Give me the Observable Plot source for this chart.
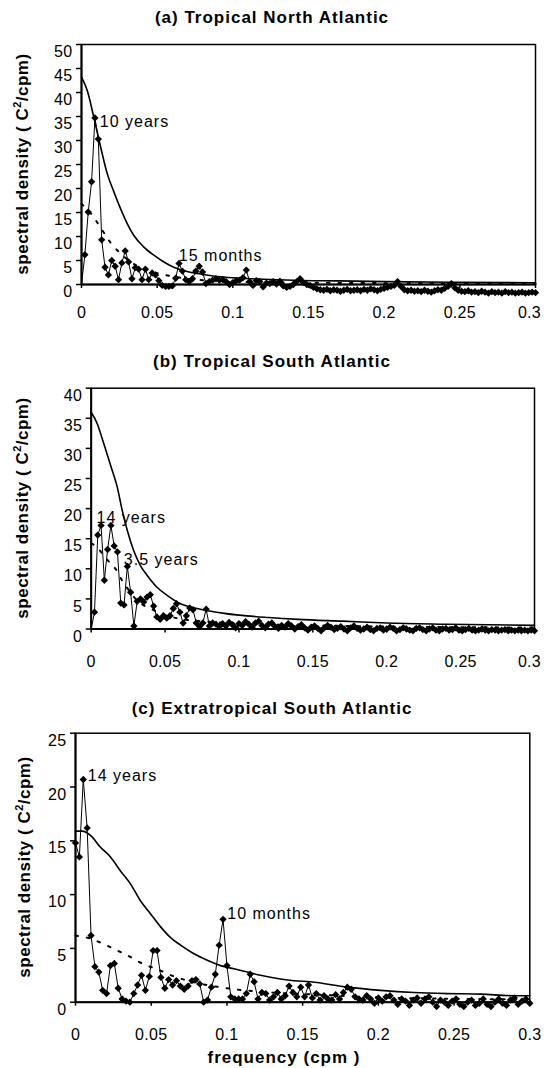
<!DOCTYPE html>
<html>
<head>
<meta charset="utf-8">
<script src="https://cdn.jsdelivr.net/npm/d3@7"></script>
<script src="https://cdn.jsdelivr.net/npm/@observablehq/plot@0.6"></script>
<style>
  body { margin: 0; background: #fff; }
  #root { position: relative; width: 544px; height: 1068px; overflow: hidden;
          font-family: "Liberation Sans", Arial, sans-serif; color: #000; }
  .title { position: absolute; left: 0; width: 544px; text-align: center; font-weight: bold;
           font-size: 17px; letter-spacing: 1px; line-height: 20px; }
  .ytitle { position: absolute; font-weight: bold; font-size: 17px; letter-spacing: 0.5px;
            white-space: nowrap; line-height: 20px; transform: translate(-50%, -50%) rotate(-90deg); }
  .ytitle .sup { font-size: 11px; position: relative; top: -7px; }
  .xtitle { position: absolute; font-weight: bold; font-size: 17px; letter-spacing: 1px;
            white-space: nowrap; line-height: 20px; transform: translate(-50%, -50%); }
  .panel { position: absolute; left: 0; }
</style>
</head>
<body>
<div id="root"></div>
<script>
// ---------- shared axis ticks ----------
const xTickValues = [0, 0.05, 0.1, 0.15, 0.2, 0.25, 0.3];

// ---------- (a) Tropical North Atlantic ----------
const titleA = "(a) Tropical North Atlantic";
const dfA = 1 / 450;            // frequency spacing of the periodogram (cpm)
const valuesA = [
  0, 6.2, 15.1, 21.4, 34.7, 30.3, 9.3, 3.6, 2.0, 5.0,
  3.8, 1.0, 4.5, 7.0, 4.7, 1.2, 3.5, 3.2, 1.0, 3.2,
  1.0, 2.4, 2.0, 0.8, -0.2, -0.4, -0.4, -0.3, 1.3, 4.4,
  2.8, 1.0, 0.6, 1.2, 2.8, 3.8, 2.6, 0.2, 0.6, 0.9,
  1.2, 0.9, 1.0, 0.6, 0.0, 0.4, 0.8, 0.9, 1.4, 3.0,
  0.6, -0.2, 0.8, 0.6, -0.5, 0.3, 0.2, 0.6, 0.1, 0.7,
  -0.3, -0.6, -0.4, 0.0, 0.6, 1.2, 0.4, 0.0, -0.2, -0.6,
  -0.9, -1.1, -1.2, -1.0, -1.3, -1.1, -1.2, -1.4, -1.2, -1.0,
  -1.3, -1.2, -1.1, -1.3, -1.0, -1.2, -0.9, -1.1, -1.3, -1.0,
  -0.8, -0.6, -0.4, -0.2, 0.6, -0.4, -1.1, -1.3, -1.2, -1.4,
  -1.3, -1.5, -1.2, -1.4, -1.6, -1.3, -1.1, -1.2, -0.8, -0.4,
  0.2, -0.7, -1.2, -1.4, -1.5, -1.3, -1.6, -1.5, -1.7, -1.4,
  -1.6, -1.8, -1.5, -1.7, -1.6, -1.8, -1.5, -1.7, -1.6, -1.8,
  -1.7, -1.6, -1.8, -1.7, -1.6, -1.7
];
const solidFreqA = [0, 0.0037, 0.0081, 0.0126, 0.017, 0.0214, 0.0258, 0.0302, 0.0346, 0.0412, 0.0478, 0.0544, 0.061, 0.0698, 0.0786, 0.0918, 0.105, 0.12, 0.14, 0.17, 0.2, 0.25, 0.3];
const solidValA  = [43.2, 40.5, 34.9, 28.7, 23.1, 19.3, 15.8, 12.7, 10.2, 7.8, 6.1, 4.7, 3.6, 2.7, 2.2, 1.6, 1.3, 1.1, 0.9, 0.75, 0.6, 0.45, 0.35];
const dottedFreqA = [0, 0.004, 0.0081, 0.0137, 0.019, 0.026, 0.035, 0.045, 0.055, 0.07, 0.09, 0.12, 0.16, 0.2, 0.25, 0.3];
const dottedValA  = [16.8, 15.6, 14.0, 11.3, 8.8, 6.4, 4.2, 2.8, 2.0, 1.2, 0.7, 0.45, 0.35, 0.28, 0.22, 0.18];
const yTicksA = [0, 5, 10, 15, 20, 25, 30, 35, 40, 45, 50];
const noteTextA = ["10 years", "15 months"];
const noteFreqA = [0.0121, 0.0643];
const noteValA  = [33.9, 5.95];

// ---------- (b) Tropical South Atlantic ----------
const titleB = "(b) Tropical South Atlantic";
const dfB = 1 / 450;
const valuesB = [
  0, 2.8, 15.6, 17.2, 8.1, 13.2, 17.2, 13.8, 12.8, 4.3,
  4.0, 10.4, 6.1, 0.5, 4.6, 5.0, 4.5, 5.3, 5.7, 3.8,
  2.0, 1.6, 2.2, 1.8, 2.2, 3.4, 4.2, 2.8, 1.0, 2.2,
  3.5, 3.2, 1.0, 0.4, 1.0, 3.3, 0.5, 1.0, 0.8, 0.4,
  0.9, 0.5, 1.1, 0.7, 0.2, 0.9, 0.6, 1.2, 0.8, 0.3,
  1.0, 1.3, 0.6, 0.2, 0.8, 1.0, 0.4, 0.1, 0.6, 0.3,
  0.9, 0.5, 0.0, 0.4, 0.7, 0.2, -0.2, 0.3, 0.5, 0.1,
  -0.3, 0.2, 0.6, 0.3, -0.1, 0.1, 0.4, 0.0, -0.3, 0.2,
  0.5, 0.1, -0.2, 0.0, 0.3, -0.1, -0.3, 0.1, 0.2, -0.2,
  0.0, 0.3, 0.1, -0.3, -0.1, 0.2, 0.0, -0.2, -0.3, 0.1,
  0.2, -0.1, -0.3, 0.0, 0.2, -0.2, -0.3, 0.0, 0.1, -0.2,
  -0.1, 0.2, -0.2, -0.3, -0.1, 0.1, -0.2, -0.3, -0.2, 0.0,
  -0.2, -0.3, -0.1, -0.2, -0.3, -0.2, -0.1, -0.3, -0.2, -0.3,
  -0.2, -0.3, -0.2, -0.3, -0.2, -0.3
];
const solidFreqB = [0, 0.0041, 0.0085, 0.0131, 0.0176, 0.021, 0.0244, 0.0288, 0.0334, 0.0379, 0.0447, 0.0514, 0.0604, 0.07, 0.08, 0.09, 0.1, 0.12, 0.14, 0.17, 0.2, 0.24, 0.3];
const solidValB  = [36.0, 34.1, 30.8, 27.2, 23.6, 19.7, 16.4, 13.0, 10.5, 8.9, 6.9, 5.6, 4.2, 3.5, 3.0, 2.6, 2.3, 1.9, 1.6, 1.3, 1.0, 0.8, 0.6];
const dottedFreqB = [0, 0.004, 0.0085, 0.013, 0.0176, 0.021, 0.025, 0.03, 0.035, 0.04, 0.05, 0.06, 0.08, 0.1, 0.14, 0.2, 0.3];
const dottedValB  = [14.2, 13.6, 12.2, 10.9, 9.6, 8.0, 6.6, 5.0, 4.0, 3.4, 2.3, 1.7, 1.2, 0.9, 0.65, 0.4, 0.25];
const yTicksB = [0, 5, 10, 15, 20, 25, 30, 35, 40];
const noteTextB = ["14 years", "3.5 years"];
const noteFreqB = [0.0036, 0.0221];
const noteValB  = [18.4, 11.4];

// ---------- (c) Extratropical South Atlantic ----------
const titleC = "(c) Extratropical South Atlantic";
const dfC = 1 / 390;
const valuesC = [
  14.8, 13.5, 20.7, 16.2, 6.2, 3.3, 2.8, 1.1, 0.8, 3.4,
  3.6, 1.3, 0.3, 0.1, 0.0, 0.8, 1.6, 2.5, 1.1, 2.4,
  4.8, 4.8, 2.3, 1.3, 2.1, 1.6, 2.0, 1.5, 1.2, 1.5,
  2.0, 2.1, 1.7, 0.0, 0.2, 1.4, 2.6, 5.3, 7.7, 3.4,
  0.5, 0.3, 0.3, 0.3, 0.8, 2.6, 1.9, 0.3, 0.9, 0.8,
  0.2, 0.5, 0.9, 0.3, 0.6, 1.5, 0.9, 0.5, 1.4, 0.5,
  1.6, 0.4, 0.8, 0.2, 0.6, 0.3, 0.2, 0.7, 0.3, 0.9,
  1.4, 1.2, 0.5, 0.3, 0.2, 0.6, 0.3, -0.1, 0.4, 0.1,
  0.5, 0.6, 0.2, -0.2, 0.3, 0.1, -0.3, 0.2, 0.4, -0.1,
  0.3, 0.5, 0.0, -0.4, 0.2, 0.0, -0.3, 0.1, 0.3, -0.2,
  -0.4, 0.0, 0.2, -0.3, -0.1, 0.3, -0.2, -0.4, 0.0, 0.3,
  -0.1, -0.3, 0.2, 0.4, -0.2, 0.1, 0.3, -0.1
];
const solidFreqC = [0, 0.0044, 0.0099, 0.0165, 0.0231, 0.0297, 0.0363, 0.043, 0.0496, 0.0562, 0.0628, 0.0694, 0.0782, 0.087, 0.0958, 0.1046, 0.1135, 0.1222, 0.1333, 0.1443, 0.1553, 0.1795, 0.2015, 0.2235, 0.2456, 0.2676, 0.2896, 0.3];
const solidValC  = [15.9, 15.9, 15.5, 14.4, 13.5, 12.2, 11.0, 9.4, 8.2, 7.0, 6.0, 5.3, 4.5, 3.9, 3.4, 3.1, 2.8, 2.5, 2.2, 2.0, 1.9, 1.4, 1.1, 0.9, 0.8, 0.75, 0.6, 0.6];
const dottedFreqC = [0, 0.01, 0.0187, 0.0276, 0.0363, 0.044, 0.055, 0.065, 0.08, 0.1, 0.13, 0.16, 0.2, 0.25, 0.3];
const dottedValC  = [6.2, 5.9, 5.4, 4.8, 4.2, 3.6, 3.0, 2.4, 1.8, 1.3, 0.9, 0.7, 0.45, 0.32, 0.25];
const yTicksC = [0, 5, 10, 15, 20, 25];
const noteTextC = ["14 years", "10 months"];
const noteFreqC = [0.0081, 0.1002];
const noteValC  = [21.0, 8.24];

const yTitleHTML = 'spectral density ( C<span class="sup">2</span>/cpm)';
const xTitle = "frequency (cpm )";

// ---------- drawing ----------
const root = document.getElementById("root");
const FONT = '"Liberation Sans", Arial, sans-serif';

function addDiv(cls, html, style) {
  const d = document.createElement("div");
  d.className = cls;
  d.innerHTML = html;
  Object.assign(d.style, style);
  root.appendChild(d);
  return d;
}

function drawPanel(cfg) {
  addDiv("title", cfg.title, {top: cfg.titleTop + "px"});
  addDiv("ytitle", yTitleHTML, {left: cfg.yTitleX + "px", top: cfg.yTitleY + "px"});

  const series = cfg.values.map((v, i) => ({f: i * cfg.df, v}));
  const solid = cfg.solidFreq.map((f, i) => ({f, v: cfg.solidVal[i]}));
  const dotted = cfg.dottedFreq.map((f, i) => ({f, v: cfg.dottedVal[i]}));
  const notes = cfg.noteText.map((t, i) => ({t, f: cfg.noteFreq[i], v: cfg.noteVal[i]}));
  const dots = cfg.hideOriginDot ? series.slice(1) : series;

  const svg = Plot.plot({
    width: 544,
    height: cfg.height,
    marginTop: cfg.mt, marginBottom: cfg.mb, marginLeft: cfg.ml, marginRight: cfg.mr,
    style: {fontFamily: FONT, fontSize: "16px", color: "black", background: "transparent", overflow: "visible"},
    x: {domain: [0, 0.3]},
    y: {domain: [0, cfg.yMax]},
    marks: [
      Plot.axisX(xTickValues, {tickSize: 4, tickPadding: cfg.xPad, tickFormat: d => String(d), label: null, strokeWidth: 1.5}),
      Plot.axisY(cfg.yTicks, {tickSize: 5, tickPadding: 4, tickFormat: d => String(d), label: null, strokeWidth: 1.5}),
      Plot.frame({stroke: "black", strokeWidth: 1.5}),
      Plot.ruleX([0], {stroke: "black", strokeWidth: 2}),
      Plot.ruleY([0], {stroke: "black", strokeWidth: 2}),
      Plot.line(dotted, {x: "f", y: "v", curve: "monotone-x", stroke: "black", strokeWidth: 2, strokeDasharray: "2.5,9"}),
      Plot.line(solid, {x: "f", y: "v", curve: "monotone-x", stroke: "black", strokeWidth: 1.6}),
      Plot.line(series, {x: "f", y: "v", stroke: "black", strokeWidth: 1}),
      Plot.dot(dots, {x: "f", y: "v", symbol: "diamond2", r: 3.3, fill: "black", stroke: "none"}),
      Plot.text(notes, {x: "f", y: "v", text: "t", textAnchor: "start", lineAnchor: "middle", fontSize: 16, fill: "black"})
    ]
  });

  const s = d3.select(svg);
  s.selectAll('g[aria-label="y-axis tick label"]').each(function () {
    const g = d3.select(this);
    g.attr("transform", (g.attr("transform") || "") + " translate(0,7.5)");
  });
  s.selectAll('g[aria-label="text"] text').style("letter-spacing", "1px");
  s.selectAll('g[aria-label="x-axis tick label"] text').style("letter-spacing", "0.3px");
  s.selectAll('g[aria-label="y-axis tick label"] text').style("letter-spacing", "0.3px");
  // keep the last x tick label ("0.3") inside the page, as in the original
  const xl = s.selectAll('g[aria-label="x-axis tick label"] text').nodes();
  if (xl.length && cfg.lastLabelShift) {
    const last = d3.select(xl[xl.length - 1]);
    last.attr("transform", (last.attr("transform") || "") + ` translate(${cfg.lastLabelShift},0)`);
  }

  const wrap = document.createElement("div");
  wrap.className = "panel";
  wrap.style.top = cfg.top + "px";
  wrap.appendChild(svg);
  root.appendChild(wrap);
}

drawPanel({
  title: titleA, titleTop: 8, yTitleX: 23, yTitleY: 164,
  values: valuesA, df: dfA, solidFreq: solidFreqA, solidVal: solidValA,
  dottedFreq: dottedFreqA, dottedVal: dottedValA, yTicks: yTicksA, yMax: 50,
  noteText: noteTextA, noteFreq: noteFreqA, noteVal: noteValA, hideOriginDot: true,
  top: 30, height: 300, mt: 14, mb: 46, ml: 81, mr: 9, xPad: 17.8, lastLabelShift: -6
});
drawPanel({
  title: titleB, titleTop: 352, yTitleX: 23, yTitleY: 508,
  values: valuesB, df: dfB, solidFreq: solidFreqB, solidVal: solidValB,
  dottedFreq: dottedFreqB, dottedVal: dottedValB, yTicks: yTicksB, yMax: 40,
  noteText: noteTextB, noteFreq: noteFreqB, noteVal: noteValB, hideOriginDot: true,
  top: 375, height: 300, mt: 12.7, mb: 46.5, ml: 90.7, mr: 10, xPad: 22.3, lastLabelShift: -5
});
drawPanel({
  title: titleC, titleTop: 699, yTitleX: 25, yTitleY: 867,
  values: valuesC, df: dfC, solidFreq: solidFreqC, solidVal: solidValC,
  dottedFreq: dottedFreqC, dottedVal: dottedValC, yTicks: yTicksC, yMax: 25,
  noteText: noteTextC, noteFreq: noteFreqC, noteVal: noteValC, hideOriginDot: false,
  top: 720, height: 320, mt: 12.7, mb: 38.3, ml: 75, mr: 14.7, xPad: 22.3, lastLabelShift: 0
});

addDiv("xtitle", xTitle, {left: "284px", top: "1058px"});
</script>
</body>
</html>
